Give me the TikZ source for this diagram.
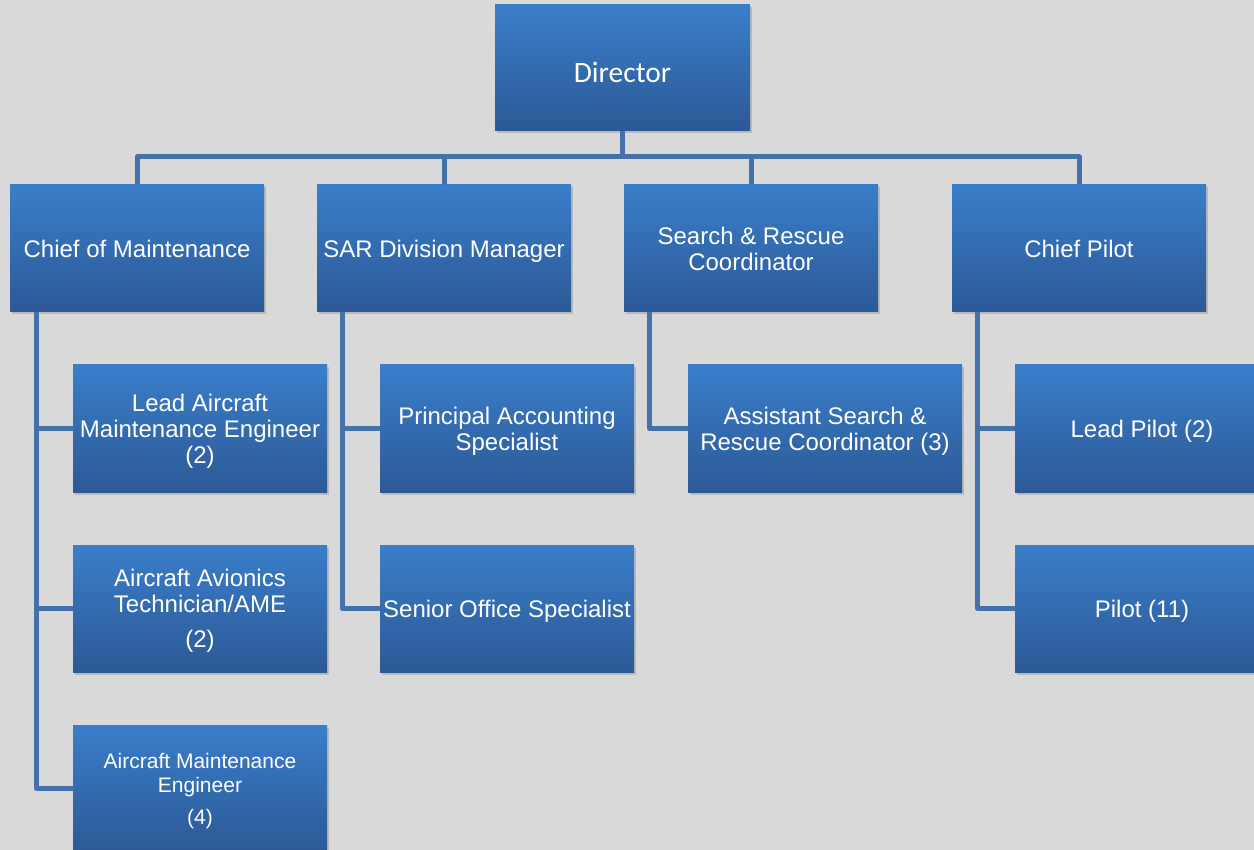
\documentclass[tikz,border=0pt]{standalone}
\usepackage{fontspec}
\setmainfont{Liberation Sans}
\newfontfamily\dirfont{Carlito}
\usetikzlibrary{shadows}
\definecolor{bg}{RGB}{217,217,217}
\definecolor{boxtop}{RGB}{58,126,202}
\definecolor{boxbot}{RGB}{44,89,150}
\definecolor{conncol}{RGB}{68,114,168}
\tikzset{
  box/.style={rectangle, inner sep=0pt, minimum width=254pt, minimum height=127pt,
    align=center, text=white, top color=boxtop, bottom color=boxbot, text depth=0pt,
    drop shadow={opacity=0.35, shadow xshift=2pt, shadow yshift=-2.5pt},
    font=\fontsize{24}{26}\selectfont},
  conn/.style={draw=conncol, line width=5pt, line join=round}
}
\begin{document}
\begin{tikzpicture}[x=1pt,y=-1pt]
\clip (0,0) rectangle (1254,850);
\useasboundingbox (0,0) rectangle (1254,850);
\fill[bg] (0,0) rectangle (1254,850);
\coordinate (bus) at (0,157);
\node[box, minimum width=255pt, minimum height=126pt, font=\dirfont\fontsize{29.5}{32}\selectfont] (dir) at (622.5,68) {\raisebox{-8pt}{Director}};
\node[box] (com) at (137,248.5) {Chief of Maintenance};
\node[box] (sar) at (444,248.5) {SAR Division Manager};
\node[box] (src) at (751,248.5) {Search \& Rescue\\Coordinator};
\node[box] (cp) at (1079,248.5) {Chief Pilot};
\node[box] (lame) at (200,428.5) {Lead Aircraft\\Maintenance Engineer\\(2)};
\node[box] (pas) at (507,428.5) {Principal Accounting\\Specialist};
\node[box, minimum width=274pt] (asrc) at (825,428.5) {Assistant Search \&\\Rescue Coordinator (3)};
\node[box] (lp) at (1142,428.5) {Lead Pilot (2)};
\node[box] (aat) at (200,608.5) {Aircraft Avionics\\Technician/AME\\[9pt](2)};
\node[box] (sos) at (507,608.5) {Senior Office Specialist};
\node[box] (pil) at (1142,608.5) {Pilot (11)};
\node[box, font=\fontsize{21}{24}\selectfont] (ame) at (200,788.5) {Aircraft Maintenance\\Engineer\\[8pt](4)};
% connectors
\draw[conn] (dir.south) -- (dir.south |- bus);
\draw[conn] (com.north) -- (com.north |- bus) -| (cp.north);
\draw[conn] (sar.north) -- (sar.north |- bus);
\draw[conn] (src.north) -- (src.north |- bus);
\draw[conn] ([xshift=27pt]com.south west) |- (lame.west);
\draw[conn] ([xshift=27pt]com.south west) |- (aat.west);
\draw[conn] ([xshift=27pt]com.south west) |- (ame.west);
\draw[conn] ([xshift=26pt]sar.south west) |- (pas.west);
\draw[conn] ([xshift=26pt]sar.south west) |- (sos.west);
\draw[conn] ([xshift=26pt]src.south west) |- (asrc.west);
\draw[conn] ([xshift=26pt]cp.south west) |- (lp.west);
\draw[conn] ([xshift=26pt]cp.south west) |- (pil.west);
\end{tikzpicture}
\end{document}
